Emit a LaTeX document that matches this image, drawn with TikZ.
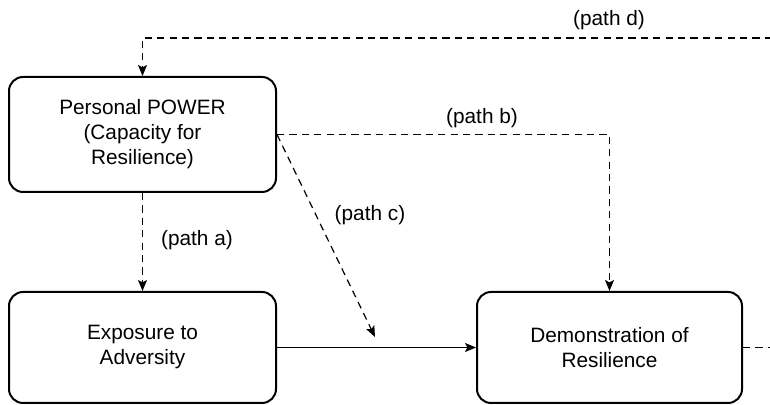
\documentclass[tikz,border=0pt]{standalone}
\usepackage{fontspec}
\setmainfont{Liberation Sans}
\usepackage{tikz}
\usetikzlibrary{arrows.meta}

\begin{document}
\begin{tikzpicture}[x=0.5pt,y=0.5pt]
\tikzset{box/.style = {draw,line width=1pt,rounded corners=7pt,align=center,
  font=\fontsize{10.4}{12.5}\selectfont}}
\tikzset{edge/.style = {-{Stealth[length=5.5pt,width=4.5pt,inset=1.2pt]},line width=0.6pt}}
\tikzset{dashedge/.style = {edge,dash pattern=on 3.6pt off 2.6pt}}
\tikzset{lbl/.style = {font=\fontsize{10.4}{12.5}\selectfont}}
\useasboundingbox (0,0) rectangle (770,405);

\node[box,minimum width=133.5pt,minimum height=57.5pt] (power) at (142.5,270.5)
  {Personal POWER\\(Capacity for\\Resilience)};
\node[box,minimum width=133.5pt,minimum height=55.5pt] (expo) at (142.5,57.5)
  {Exposure to\\Adversity};
\node[box,minimum width=132.5pt,minimum height=55.5pt] (demo) at (609.5,57.5)
  {Demonstration of\\Resilience};

\coordinate (dstart) at (772,367);
\coordinate (ctip) at (375,68);
\coordinate (dend) at (772,57.5);

\draw[edge] (expo.east) to (demo.west);
\draw[dashedge] (power.south) to (expo.north);
\draw[dashedge] (power.east) -| (demo.north);
\draw[dashedge] (power.east) to (ctip);
\draw[dashedge,-] (demo.east) to (dend);
\draw[dashedge] (dstart) -| (power.north);

\node[lbl] (la) at (197,165) {(path a)};
\node[lbl] (lb) at (482,287) {(path b)};
\node[lbl] (lc) at (370,190) {(path c)};
\node[lbl] (ld) at (609,385) {(path d)};

\end{tikzpicture}
\end{document}
